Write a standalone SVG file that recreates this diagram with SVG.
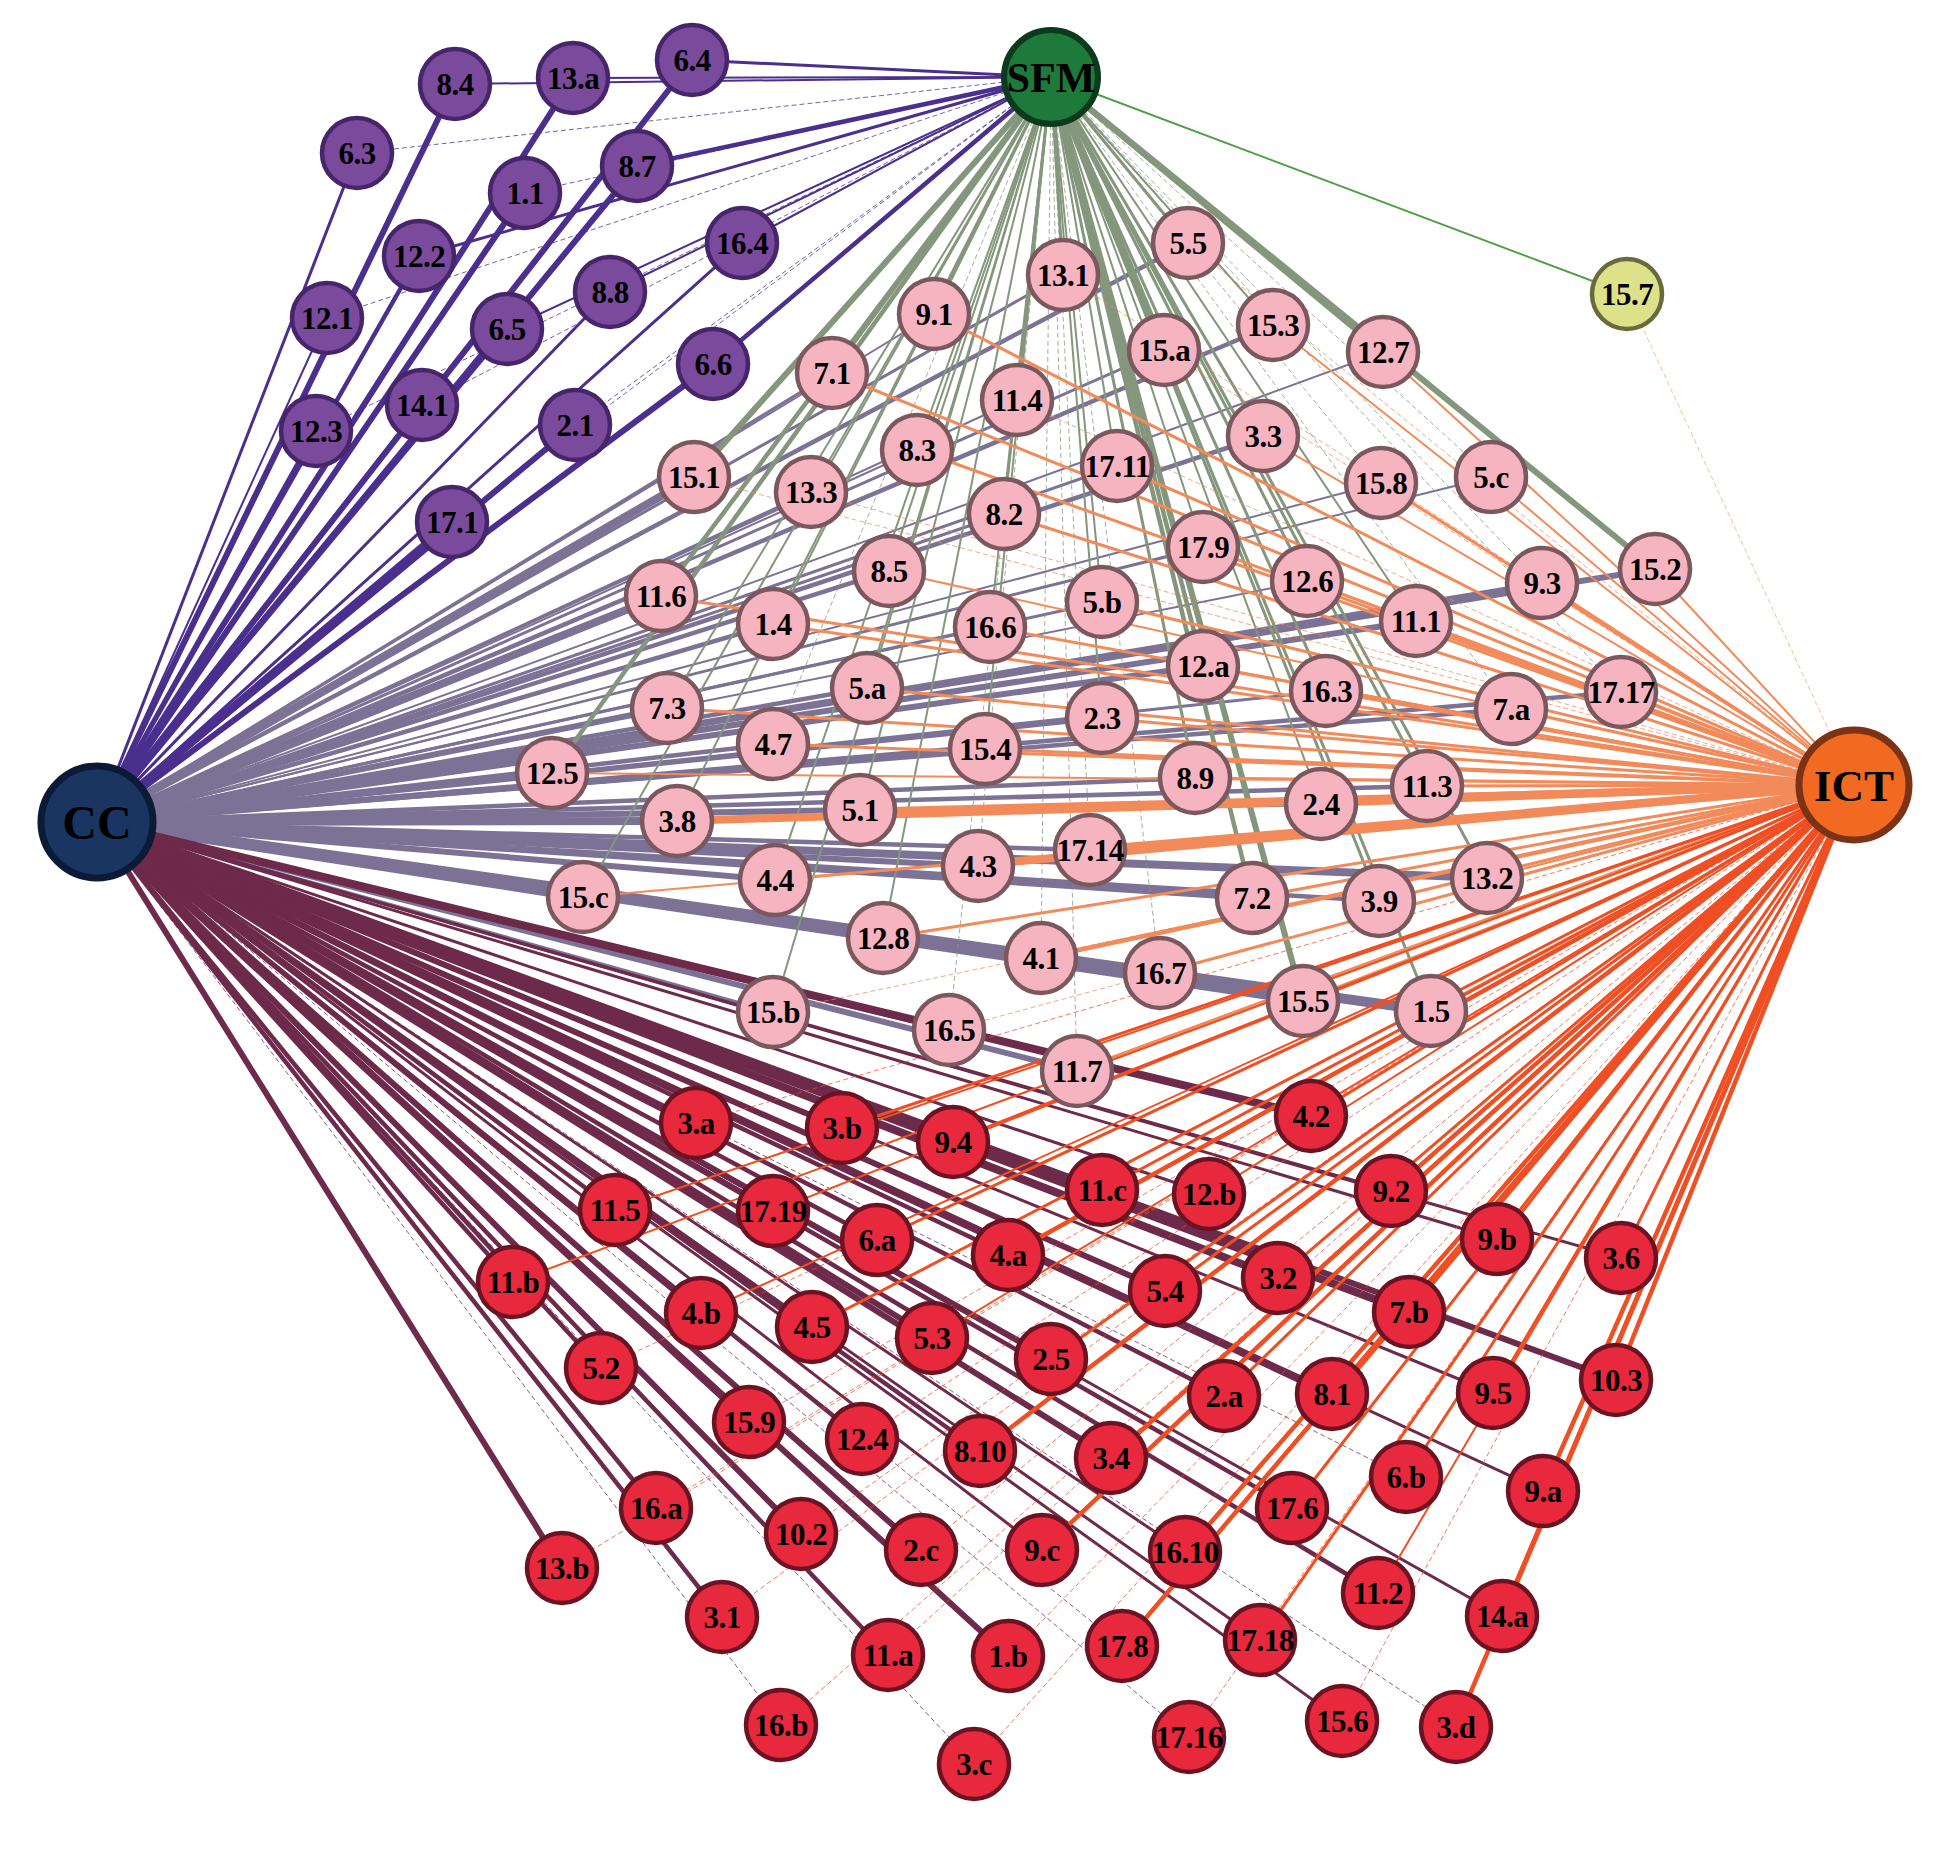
<svg xmlns="http://www.w3.org/2000/svg" width="1948" height="1853" viewBox="0 0 1948 1853">
<style>
path{fill:none;stroke-linecap:butt}
.cp{stroke:#4a2f8f}.cg{stroke:#7c7295}.cr{stroke:#6d2a4b}.sg{stroke:#84967c}.sp{stroke:#4a2f8f}.op{stroke:#f28a5a}.or{stroke:#f04e23}.sy{stroke:#4e9e44}.oy{stroke:#f5a868}
.w1{stroke-width:1;stroke-dasharray:5 3;opacity:.75}.w2{stroke-width:2}.w3{stroke-width:3}.w4{stroke-width:4.5}.w5{stroke-width:6}.w6{stroke-width:8}.w7{stroke-width:10}
.n circle{stroke-width:4.5}.n text{font-family:"Liberation Serif","Times New Roman",serif;font-weight:bold;font-size:31px;letter-spacing:-0.5px;text-anchor:middle;fill:#000}
.pu circle{fill:#7a4a9d;stroke:#47256a}.pk circle{fill:#f6b4c1;stroke:#7b575e}.rd circle{fill:#e8293d;stroke:#6b1322}.yl circle{fill:#dde28a;stroke:#6a6b3c}
.hub text{font-family:"Liberation Serif","Times New Roman",serif;font-weight:bold;text-anchor:middle;fill:#000}
</style>
<defs><circle id="c" r="35"/></defs>
<rect width="1948" height="1853" fill="#fff"/>
<g id="connectors">
<path class="cg w4" d="M97 822L1188 243"/><path class="cg w3" d="M97 822L1063 275"/><path class="cg w2" d="M97 822L934 314"/><path class="cg w4" d="M97 822L1273 325"/><path class="cg w3" d="M97 822L1164 350"/><path class="cg w2" d="M97 822L1383 352"/><path class="cg w3" d="M97 822L832 373"/><path class="cg w2" d="M97 822L1017 400"/><path class="cg w4" d="M97 822L1263 436"/><path class="cg w2" d="M97 822L917 450"/><path class="cg w3" d="M97 822L1117 466"/><path class="cg w6" d="M97 822L694 477"/><path class="cg w3" d="M97 822L811 492"/><path class="cg w2" d="M97 822L1381 483"/><path class="cg w2" d="M97 822L1491 477"/><path class="cg w3" d="M97 822L1004 514"/><path class="cg w2" d="M97 822L1203 547"/><path class="cg w5" d="M97 822L1655 569"/><path class="cg w4" d="M97 822L889 571"/><path class="cg w4" d="M97 822L1542 583"/><path class="cg w2" d="M97 822L1307 581"/><path class="cg w6" d="M97 822L661 596"/><path class="cg w4" d="M97 822L773 624"/><path class="cg w3" d="M97 822L1102 602"/><path class="cg w3" d="M97 822L990 627"/><path class="cg w5" d="M97 822L1416 621"/><path class="cg w5" d="M97 822L1203 666"/><path class="cg w3" d="M97 822L1326 691"/><path class="cg w4" d="M97 822L1621 692"/><path class="cg w4" d="M97 822L1511 709"/><path class="cg w4" d="M97 822L867 688"/><path class="cg w5" d="M97 822L667 708"/><path class="cg w4" d="M97 822L1102 718"/><path class="cg w4" d="M97 822L773 744"/><path class="cg w5" d="M97 822L985 749"/><path class="cg w5" d="M97 822L552 773"/><path class="cg w4" d="M97 822L1195 778"/><path class="cg w4" d="M97 822L1427 786"/><path class="cg w4" d="M97 822L1321 804"/><path class="cg w5" d="M97 822L860 810"/><path class="cg w6" d="M97 822L677 821"/><path class="cg w4" d="M97 822L1090 850"/><path class="cg w5" d="M97 822L978 866"/><path class="cg w5" d="M97 822L775 880"/><path class="cg w6" d="M97 822L1487 878"/><path class="cg w7" d="M97 822L583 897"/><path class="cg w5" d="M97 822L1252 898"/><path class="cg w4" d="M97 822L1379 901"/><path class="cg w3" d="M97 822L883 938"/><path class="cg w4" d="M97 822L1041 958"/><path class="cg w4" d="M97 822L1160 973"/><path class="cg w6" d="M97 822L1303 1001"/><path class="cg w7" d="M97 822L1431 1011"/><path class="cg w3" d="M97 822L773 1012"/><path class="cg w4" d="M97 822L949 1030"/><path class="cg w5" d="M97 822L1077 1071"/>
<path class="cr w6" d="M97 822L1311 1116"/><path class="cr w5" d="M97 822L696 1123"/><path class="cr w5" d="M97 822L842 1128"/><path class="cr w5" d="M97 822L953 1142"/><path class="cr w6" d="M97 822L1102 1190"/><path class="cr w3" d="M97 822L1209 1194"/><path class="cr w3" d="M97 822L1391 1191"/><path class="cr w4" d="M97 822L615 1210"/><path class="cr w5" d="M97 822L773 1211"/><path class="cr w4" d="M97 822L877 1240"/><path class="cr w4" d="M97 822L1008 1255"/><path class="cr w3" d="M97 822L1497 1239"/><path class="cr w3" d="M97 822L1621 1258"/><path class="cr w4" d="M97 822L513 1282"/><path class="cr w5" d="M97 822L1165 1291"/><path class="cr w6" d="M97 822L1278 1278"/><path class="cr w6" d="M97 822L1409 1312"/><path class="cr w4" d="M97 822L701 1313"/><path class="cr w5" d="M97 822L812 1327"/><path class="cr w5" d="M97 822L932 1338"/><path class="cr w5" d="M97 822L1051 1359"/><path class="cr w5" d="M97 822L1616 1380"/><path class="cr w4" d="M97 822L601 1368"/><path class="cr w4" d="M97 822L1224 1396"/><path class="cr w6" d="M97 822L1332 1394"/><path class="cr w3" d="M97 822L1493 1393"/><path class="cr w5" d="M97 822L749 1422"/><path class="cr w4" d="M97 822L862 1439"/><path class="cr w4" d="M97 822L980 1451"/><path class="cr w5" d="M97 822L1111 1458"/><path class="cr w3" d="M97 822L1543 1491"/><path class="cr w1" d="M97 822L1406 1477"/><path class="cr w4" d="M97 822L1292 1508"/><path class="cr w4" d="M97 822L656 1508"/><path class="cr w5" d="M97 822L801 1534"/><path class="cr w5" d="M97 822L921 1550"/><path class="cr w3" d="M97 822L1042 1550"/><path class="cr w3" d="M97 822L1185 1552"/><path class="cr w5" d="M97 822L562 1568"/><path class="cr w4" d="M97 822L1378 1593"/><path class="cr w3" d="M97 822L1502 1616"/><path class="cr w4" d="M97 822L722 1617"/><path class="cr w4" d="M97 822L888 1655"/><path class="cr w5" d="M97 822L1008 1656"/><path class="cr w1" d="M97 822L1122 1646"/><path class="cr w3" d="M97 822L1260 1640"/><path class="cr w3" d="M97 822L1342 1721"/><path class="cr w1" d="M97 822L1456 1727"/><path class="cr w1" d="M97 822L781 1725"/><path class="cr w1" d="M97 822L974 1764"/><path class="cr w1" d="M97 822L1189 1737"/>
<path class="cp w5" d="M97 822L455 84"/><path class="cp w5" d="M97 822L573 78"/><path class="cp w5" d="M97 822L692 60"/><path class="cp w3" d="M97 822L357 153"/><path class="cp w5" d="M97 822L525 193"/><path class="cp w5" d="M97 822L637 166"/><path class="cp w4" d="M97 822L419 256"/><path class="cp w3" d="M97 822L742 243"/><path class="cp w3" d="M97 822L610 292"/><path class="cp w2" d="M97 822L327 318"/><path class="cp w4" d="M97 822L507 329"/><path class="cp w5" d="M97 822L713 364"/><path class="cp w4" d="M97 822L422 405"/><path class="cp w5" d="M97 822L575 425"/><path class="cp w4" d="M97 822L316 431"/><path class="cp w6" d="M97 822L452 522"/>
<path class="sp w2" d="M1051 77L455 84"/><path class="sp w2" d="M1051 77L573 78"/><path class="sp w3" d="M1051 77L692 60"/><path class="sp w1" d="M1051 77L357 153"/><path class="sp w1" d="M1051 77L525 193"/><path class="sp w4" d="M1051 77L637 166"/><path class="sp w3" d="M1051 77L419 256"/><path class="sp w2" d="M1051 77L742 243"/><path class="sp w2" d="M1051 77L610 292"/><path class="sp w1" d="M1051 77L327 318"/><path class="sp w2" d="M1051 77L507 329"/><path class="sp w4" d="M1051 77L713 364"/><path class="sp w1" d="M1051 77L422 405"/><path class="sp w1" d="M1051 77L575 425"/><path class="sp w1" d="M1051 77L316 431"/><path class="sp w1" d="M1051 77L452 522"/>
<path class="sg w3" d="M1051 77L1188 243"/><path class="sg w3" d="M1051 77L1063 275"/><path class="sg w3" d="M1051 77L934 314"/><path class="sg w2" d="M1051 77L1273 325"/><path class="sg w6" d="M1051 77L1164 350"/><path class="sg w5" d="M1051 77L1383 352"/><path class="sg w3" d="M1051 77L832 373"/><path class="sg w3" d="M1051 77L1017 400"/><path class="sg w3" d="M1051 77L1263 436"/><path class="sg w2" d="M1051 77L917 450"/><path class="sg w2" d="M1051 77L1117 466"/><path class="sg w5" d="M1051 77L694 477"/><path class="sg w2" d="M1051 77L811 492"/><path class="sg w1" d="M1051 77L1381 483"/><path class="sg w1" d="M1051 77L1491 477"/><path class="sg w2" d="M1051 77L1004 514"/><path class="sg w2" d="M1051 77L1203 547"/><path class="sg w5" d="M1051 77L1655 569"/><path class="sg w2" d="M1051 77L889 571"/><path class="sg w1" d="M1051 77L1542 583"/><path class="sg w3" d="M1051 77L1307 581"/><path class="sg w4" d="M1051 77L661 596"/><path class="sg w2" d="M1051 77L773 624"/><path class="sg w2" d="M1051 77L1102 602"/><path class="sg w2" d="M1051 77L990 627"/><path class="sg w2" d="M1051 77L1416 621"/><path class="sg w4" d="M1051 77L1203 666"/><path class="sg w3" d="M1051 77L1326 691"/><path class="sg w1" d="M1051 77L1621 692"/><path class="sg w1" d="M1051 77L1511 709"/><path class="sg w2" d="M1051 77L867 688"/><path class="sg w2" d="M1051 77L667 708"/><path class="sg w2" d="M1051 77L1102 718"/><path class="sg w1" d="M1051 77L773 744"/><path class="sg w2" d="M1051 77L985 749"/><path class="sg w4" d="M1051 77L552 773"/><path class="sg w3" d="M1051 77L1195 778"/><path class="sg w3" d="M1051 77L1427 786"/><path class="sg w2" d="M1051 77L1321 804"/><path class="sg w2" d="M1051 77L860 810"/><path class="sg w2" d="M1051 77L677 821"/><path class="sg w1" d="M1051 77L1090 850"/><path class="sg w1" d="M1051 77L978 866"/><path class="sg w2" d="M1051 77L775 880"/><path class="sg w3" d="M1051 77L1487 878"/><path class="sg w2" d="M1051 77L583 897"/><path class="sg w4" d="M1051 77L1252 898"/><path class="sg w3" d="M1051 77L1379 901"/><path class="sg w2" d="M1051 77L883 938"/><path class="sg w1" d="M1051 77L1041 958"/><path class="sg w1" d="M1051 77L1160 973"/><path class="sg w5" d="M1051 77L1303 1001"/><path class="sg w3" d="M1051 77L1431 1011"/><path class="sg w2" d="M1051 77L773 1012"/><path class="sg w1" d="M1051 77L949 1030"/><path class="sg w1" d="M1051 77L1077 1071"/>
<path class="sy w2" d="M1051 77L1627 294"/>
<path class="op w1" d="M1854 785L1188 243"/><path class="op w1" d="M1854 785L1063 275"/><path class="op w3" d="M1854 785L934 314"/><path class="op w2" d="M1854 785L1273 325"/><path class="op w1" d="M1854 785L1164 350"/><path class="op w2" d="M1854 785L1383 352"/><path class="op w3" d="M1854 785L832 373"/><path class="op w1" d="M1854 785L1017 400"/><path class="op w2" d="M1854 785L1263 436"/><path class="op w3" d="M1854 785L917 450"/><path class="op w3" d="M1854 785L1117 466"/><path class="op w1" d="M1854 785L694 477"/><path class="op w1" d="M1854 785L811 492"/><path class="op w3" d="M1854 785L1381 483"/><path class="op w2" d="M1854 785L1491 477"/><path class="op w3" d="M1854 785L1004 514"/><path class="op w3" d="M1854 785L1203 547"/><path class="op w2" d="M1854 785L1655 569"/><path class="op w2" d="M1854 785L889 571"/><path class="op w3" d="M1854 785L1542 583"/><path class="op w3" d="M1854 785L1307 581"/><path class="op w3" d="M1854 785L661 596"/><path class="op w3" d="M1854 785L773 624"/><path class="op w3" d="M1854 785L1102 602"/><path class="op w3" d="M1854 785L990 627"/><path class="op w3" d="M1854 785L1416 621"/><path class="op w3" d="M1854 785L1203 666"/><path class="op w3" d="M1854 785L1326 691"/><path class="op w3" d="M1854 785L1621 692"/><path class="op w3" d="M1854 785L1511 709"/><path class="op w3" d="M1854 785L867 688"/><path class="op w3" d="M1854 785L667 708"/><path class="op w3" d="M1854 785L1102 718"/><path class="op w3" d="M1854 785L773 744"/><path class="op w3" d="M1854 785L985 749"/><path class="op w2" d="M1854 785L552 773"/><path class="op w3" d="M1854 785L1195 778"/><path class="op w3" d="M1854 785L1427 786"/><path class="op w5" d="M1854 785L1321 804"/><path class="op w4" d="M1854 785L860 810"/><path class="op w6" d="M1854 785L677 821"/><path class="op w6" d="M1854 785L1090 850"/><path class="op w5" d="M1854 785L978 866"/><path class="op w3" d="M1854 785L775 880"/><path class="op w2" d="M1854 785L1487 878"/><path class="op w2" d="M1854 785L583 897"/><path class="op w3" d="M1854 785L1252 898"/><path class="op w3" d="M1854 785L1379 901"/><path class="op w3" d="M1854 785L883 938"/><path class="op w4" d="M1854 785L1041 958"/><path class="op w3" d="M1854 785L1160 973"/><path class="op w3" d="M1854 785L1303 1001"/><path class="op w2" d="M1854 785L1431 1011"/><path class="op w1" d="M1854 785L773 1012"/><path class="op w1" d="M1854 785L949 1030"/><path class="op w4" d="M1854 785L1077 1071"/>
<path class="oy w1" d="M1854 785L1627 294"/>
<path class="or w3" d="M1854 785L1311 1116"/><path class="or w1" d="M1854 785L696 1123"/><path class="or w3" d="M1854 785L842 1128"/><path class="or w3" d="M1854 785L953 1142"/><path class="or w3" d="M1854 785L1102 1190"/><path class="or w2" d="M1854 785L1209 1194"/><path class="or w4" d="M1854 785L1391 1191"/><path class="or w2" d="M1854 785L615 1210"/><path class="or w2" d="M1854 785L773 1211"/><path class="or w3" d="M1854 785L877 1240"/><path class="or w4" d="M1854 785L1008 1255"/><path class="or w3" d="M1854 785L1497 1239"/><path class="or w3" d="M1854 785L1621 1258"/><path class="or w2" d="M1854 785L513 1282"/><path class="or w3" d="M1854 785L1165 1291"/><path class="or w3" d="M1854 785L1278 1278"/><path class="or w3" d="M1854 785L1409 1312"/><path class="or w2" d="M1854 785L701 1313"/><path class="or w3" d="M1854 785L812 1327"/><path class="or w2" d="M1854 785L932 1338"/><path class="or w3" d="M1854 785L1051 1359"/><path class="or w4" d="M1854 785L1616 1380"/><path class="or w1" d="M1854 785L601 1368"/><path class="or w3" d="M1854 785L1224 1396"/><path class="or w3" d="M1854 785L1332 1394"/><path class="or w3" d="M1854 785L1493 1393"/><path class="or w1" d="M1854 785L749 1422"/><path class="or w1" d="M1854 785L862 1439"/><path class="or w4" d="M1854 785L980 1451"/><path class="or w4" d="M1854 785L1111 1458"/><path class="or w4" d="M1854 785L1543 1491"/><path class="or w3" d="M1854 785L1406 1477"/><path class="or w3" d="M1854 785L1292 1508"/><path class="or w1" d="M1854 785L656 1508"/><path class="or w1" d="M1854 785L801 1534"/><path class="or w1" d="M1854 785L921 1550"/><path class="or w4" d="M1854 785L1042 1550"/><path class="or w4" d="M1854 785L1185 1552"/><path class="or w1" d="M1854 785L562 1568"/><path class="or w2" d="M1854 785L1378 1593"/><path class="or w4" d="M1854 785L1502 1616"/><path class="or w1" d="M1854 785L722 1617"/><path class="or w1" d="M1854 785L888 1655"/><path class="or w1" d="M1854 785L1008 1656"/><path class="or w4" d="M1854 785L1122 1646"/><path class="or w3" d="M1854 785L1260 1640"/><path class="or w1" d="M1854 785L1342 1721"/><path class="or w4" d="M1854 785L1456 1727"/><path class="or w1" d="M1854 785L781 1725"/><path class="or w1" d="M1854 785L974 1764"/><path class="or w1" d="M1854 785L1189 1737"/>
</g>
<g id="nodes">
<g id="n-8-4" class="n pu"><circle cx="455" cy="84" r="35"/><text x="455" y="95">8.4</text></g>
<g id="n-13-a" class="n pu"><circle cx="573" cy="78" r="35"/><text x="573" y="89">13.a</text></g>
<g id="n-6-4" class="n pu"><circle cx="692" cy="60" r="35"/><text x="692" y="71">6.4</text></g>
<g id="n-6-3" class="n pu"><circle cx="357" cy="153" r="35"/><text x="357" y="164">6.3</text></g>
<g id="n-1-1" class="n pu"><circle cx="525" cy="193" r="35"/><text x="525" y="204">1.1</text></g>
<g id="n-8-7" class="n pu"><circle cx="637" cy="166" r="35"/><text x="637" y="177">8.7</text></g>
<g id="n-12-2" class="n pu"><circle cx="419" cy="256" r="35"/><text x="419" y="267">12.2</text></g>
<g id="n-16-4" class="n pu"><circle cx="742" cy="243" r="35"/><text x="742" y="254">16.4</text></g>
<g id="n-8-8" class="n pu"><circle cx="610" cy="292" r="35"/><text x="610" y="303">8.8</text></g>
<g id="n-12-1" class="n pu"><circle cx="327" cy="318" r="35"/><text x="327" y="329">12.1</text></g>
<g id="n-6-5" class="n pu"><circle cx="507" cy="329" r="35"/><text x="507" y="340">6.5</text></g>
<g id="n-6-6" class="n pu"><circle cx="713" cy="364" r="35"/><text x="713" y="375">6.6</text></g>
<g id="n-14-1" class="n pu"><circle cx="422" cy="405" r="35"/><text x="422" y="416">14.1</text></g>
<g id="n-2-1" class="n pu"><circle cx="575" cy="425" r="35"/><text x="575" y="436">2.1</text></g>
<g id="n-12-3" class="n pu"><circle cx="316" cy="431" r="35"/><text x="316" y="442">12.3</text></g>
<g id="n-17-1" class="n pu"><circle cx="452" cy="522" r="35"/><text x="452" y="533">17.1</text></g>
<g id="n-15-7" class="n yl"><circle cx="1627" cy="294" r="35"/><text x="1627" y="305">15.7</text></g>
<g id="n-5-5" class="n pk"><circle cx="1188" cy="243" r="35"/><text x="1188" y="254">5.5</text></g>
<g id="n-13-1" class="n pk"><circle cx="1063" cy="275" r="35"/><text x="1063" y="286">13.1</text></g>
<g id="n-9-1" class="n pk"><circle cx="934" cy="314" r="35"/><text x="934" y="325">9.1</text></g>
<g id="n-15-3" class="n pk"><circle cx="1273" cy="325" r="35"/><text x="1273" y="336">15.3</text></g>
<g id="n-15-a" class="n pk"><circle cx="1164" cy="350" r="35"/><text x="1164" y="361">15.a</text></g>
<g id="n-12-7" class="n pk"><circle cx="1383" cy="352" r="35"/><text x="1383" y="363">12.7</text></g>
<g id="n-7-1" class="n pk"><circle cx="832" cy="373" r="35"/><text x="832" y="384">7.1</text></g>
<g id="n-11-4" class="n pk"><circle cx="1017" cy="400" r="35"/><text x="1017" y="411">11.4</text></g>
<g id="n-3-3" class="n pk"><circle cx="1263" cy="436" r="35"/><text x="1263" y="447">3.3</text></g>
<g id="n-8-3" class="n pk"><circle cx="917" cy="450" r="35"/><text x="917" y="461">8.3</text></g>
<g id="n-17-11" class="n pk"><circle cx="1117" cy="466" r="35"/><text x="1117" y="477">17.11</text></g>
<g id="n-15-1" class="n pk"><circle cx="694" cy="477" r="35"/><text x="694" y="488">15.1</text></g>
<g id="n-13-3" class="n pk"><circle cx="811" cy="492" r="35"/><text x="811" y="503">13.3</text></g>
<g id="n-15-8" class="n pk"><circle cx="1381" cy="483" r="35"/><text x="1381" y="494">15.8</text></g>
<g id="n-5-c" class="n pk"><circle cx="1491" cy="477" r="35"/><text x="1491" y="488">5.c</text></g>
<g id="n-8-2" class="n pk"><circle cx="1004" cy="514" r="35"/><text x="1004" y="525">8.2</text></g>
<g id="n-17-9" class="n pk"><circle cx="1203" cy="547" r="35"/><text x="1203" y="558">17.9</text></g>
<g id="n-15-2" class="n pk"><circle cx="1655" cy="569" r="35"/><text x="1655" y="580">15.2</text></g>
<g id="n-8-5" class="n pk"><circle cx="889" cy="571" r="35"/><text x="889" y="582">8.5</text></g>
<g id="n-9-3" class="n pk"><circle cx="1542" cy="583" r="35"/><text x="1542" y="594">9.3</text></g>
<g id="n-12-6" class="n pk"><circle cx="1307" cy="581" r="35"/><text x="1307" y="592">12.6</text></g>
<g id="n-11-6" class="n pk"><circle cx="661" cy="596" r="35"/><text x="661" y="607">11.6</text></g>
<g id="n-1-4" class="n pk"><circle cx="773" cy="624" r="35"/><text x="773" y="635">1.4</text></g>
<g id="n-5-b" class="n pk"><circle cx="1102" cy="602" r="35"/><text x="1102" y="613">5.b</text></g>
<g id="n-16-6" class="n pk"><circle cx="990" cy="627" r="35"/><text x="990" y="638">16.6</text></g>
<g id="n-11-1" class="n pk"><circle cx="1416" cy="621" r="35"/><text x="1416" y="632">11.1</text></g>
<g id="n-12-a" class="n pk"><circle cx="1203" cy="666" r="35"/><text x="1203" y="677">12.a</text></g>
<g id="n-16-3" class="n pk"><circle cx="1326" cy="691" r="35"/><text x="1326" y="702">16.3</text></g>
<g id="n-17-17" class="n pk"><circle cx="1621" cy="692" r="35"/><text x="1621" y="703">17.17</text></g>
<g id="n-7-a" class="n pk"><circle cx="1511" cy="709" r="35"/><text x="1511" y="720">7.a</text></g>
<g id="n-5-a" class="n pk"><circle cx="867" cy="688" r="35"/><text x="867" y="699">5.a</text></g>
<g id="n-7-3" class="n pk"><circle cx="667" cy="708" r="35"/><text x="667" y="719">7.3</text></g>
<g id="n-2-3" class="n pk"><circle cx="1102" cy="718" r="35"/><text x="1102" y="729">2.3</text></g>
<g id="n-4-7" class="n pk"><circle cx="773" cy="744" r="35"/><text x="773" y="755">4.7</text></g>
<g id="n-15-4" class="n pk"><circle cx="985" cy="749" r="35"/><text x="985" y="760">15.4</text></g>
<g id="n-12-5" class="n pk"><circle cx="552" cy="773" r="35"/><text x="552" y="784">12.5</text></g>
<g id="n-8-9" class="n pk"><circle cx="1195" cy="778" r="35"/><text x="1195" y="789">8.9</text></g>
<g id="n-11-3" class="n pk"><circle cx="1427" cy="786" r="35"/><text x="1427" y="797">11.3</text></g>
<g id="n-2-4" class="n pk"><circle cx="1321" cy="804" r="35"/><text x="1321" y="815">2.4</text></g>
<g id="n-5-1" class="n pk"><circle cx="860" cy="810" r="35"/><text x="860" y="821">5.1</text></g>
<g id="n-3-8" class="n pk"><circle cx="677" cy="821" r="35"/><text x="677" y="832">3.8</text></g>
<g id="n-17-14" class="n pk"><circle cx="1090" cy="850" r="35"/><text x="1090" y="861">17.14</text></g>
<g id="n-4-3" class="n pk"><circle cx="978" cy="866" r="35"/><text x="978" y="877">4.3</text></g>
<g id="n-4-4" class="n pk"><circle cx="775" cy="880" r="35"/><text x="775" y="891">4.4</text></g>
<g id="n-13-2" class="n pk"><circle cx="1487" cy="878" r="35"/><text x="1487" y="889">13.2</text></g>
<g id="n-15-c" class="n pk"><circle cx="583" cy="897" r="35"/><text x="583" y="908">15.c</text></g>
<g id="n-7-2" class="n pk"><circle cx="1252" cy="898" r="35"/><text x="1252" y="909">7.2</text></g>
<g id="n-3-9" class="n pk"><circle cx="1379" cy="901" r="35"/><text x="1379" y="912">3.9</text></g>
<g id="n-12-8" class="n pk"><circle cx="883" cy="938" r="35"/><text x="883" y="949">12.8</text></g>
<g id="n-4-1" class="n pk"><circle cx="1041" cy="958" r="35"/><text x="1041" y="969">4.1</text></g>
<g id="n-16-7" class="n pk"><circle cx="1160" cy="973" r="35"/><text x="1160" y="984">16.7</text></g>
<g id="n-15-5" class="n pk"><circle cx="1303" cy="1001" r="35"/><text x="1303" y="1012">15.5</text></g>
<g id="n-1-5" class="n pk"><circle cx="1431" cy="1011" r="35"/><text x="1431" y="1022">1.5</text></g>
<g id="n-15-b" class="n pk"><circle cx="773" cy="1012" r="35"/><text x="773" y="1023">15.b</text></g>
<g id="n-16-5" class="n pk"><circle cx="949" cy="1030" r="35"/><text x="949" y="1041">16.5</text></g>
<g id="n-11-7" class="n pk"><circle cx="1077" cy="1071" r="35"/><text x="1077" y="1082">11.7</text></g>
<g id="n-4-2" class="n rd"><circle cx="1311" cy="1116" r="35"/><text x="1311" y="1127">4.2</text></g>
<g id="n-3-a" class="n rd"><circle cx="696" cy="1123" r="35"/><text x="696" y="1134">3.a</text></g>
<g id="n-3-b" class="n rd"><circle cx="842" cy="1128" r="35"/><text x="842" y="1139">3.b</text></g>
<g id="n-9-4" class="n rd"><circle cx="953" cy="1142" r="35"/><text x="953" y="1153">9.4</text></g>
<g id="n-11-c" class="n rd"><circle cx="1102" cy="1190" r="35"/><text x="1102" y="1201">11.c</text></g>
<g id="n-12-b" class="n rd"><circle cx="1209" cy="1194" r="35"/><text x="1209" y="1205">12.b</text></g>
<g id="n-9-2" class="n rd"><circle cx="1391" cy="1191" r="35"/><text x="1391" y="1202">9.2</text></g>
<g id="n-11-5" class="n rd"><circle cx="615" cy="1210" r="35"/><text x="615" y="1221">11.5</text></g>
<g id="n-17-19" class="n rd"><circle cx="773" cy="1211" r="35"/><text x="773" y="1222">17.19</text></g>
<g id="n-6-a" class="n rd"><circle cx="877" cy="1240" r="35"/><text x="877" y="1251">6.a</text></g>
<g id="n-4-a" class="n rd"><circle cx="1008" cy="1255" r="35"/><text x="1008" y="1266">4.a</text></g>
<g id="n-9-b" class="n rd"><circle cx="1497" cy="1239" r="35"/><text x="1497" y="1250">9.b</text></g>
<g id="n-3-6" class="n rd"><circle cx="1621" cy="1258" r="35"/><text x="1621" y="1269">3.6</text></g>
<g id="n-11-b" class="n rd"><circle cx="513" cy="1282" r="35"/><text x="513" y="1293">11.b</text></g>
<g id="n-5-4" class="n rd"><circle cx="1165" cy="1291" r="35"/><text x="1165" y="1302">5.4</text></g>
<g id="n-3-2" class="n rd"><circle cx="1278" cy="1278" r="35"/><text x="1278" y="1289">3.2</text></g>
<g id="n-7-b" class="n rd"><circle cx="1409" cy="1312" r="35"/><text x="1409" y="1323">7.b</text></g>
<g id="n-4-b" class="n rd"><circle cx="701" cy="1313" r="35"/><text x="701" y="1324">4.b</text></g>
<g id="n-4-5" class="n rd"><circle cx="812" cy="1327" r="35"/><text x="812" y="1338">4.5</text></g>
<g id="n-5-3" class="n rd"><circle cx="932" cy="1338" r="35"/><text x="932" y="1349">5.3</text></g>
<g id="n-2-5" class="n rd"><circle cx="1051" cy="1359" r="35"/><text x="1051" y="1370">2.5</text></g>
<g id="n-10-3" class="n rd"><circle cx="1616" cy="1380" r="35"/><text x="1616" y="1391">10.3</text></g>
<g id="n-5-2" class="n rd"><circle cx="601" cy="1368" r="35"/><text x="601" y="1379">5.2</text></g>
<g id="n-2-a" class="n rd"><circle cx="1224" cy="1396" r="35"/><text x="1224" y="1407">2.a</text></g>
<g id="n-8-1" class="n rd"><circle cx="1332" cy="1394" r="35"/><text x="1332" y="1405">8.1</text></g>
<g id="n-9-5" class="n rd"><circle cx="1493" cy="1393" r="35"/><text x="1493" y="1404">9.5</text></g>
<g id="n-15-9" class="n rd"><circle cx="749" cy="1422" r="35"/><text x="749" y="1433">15.9</text></g>
<g id="n-12-4" class="n rd"><circle cx="862" cy="1439" r="35"/><text x="862" y="1450">12.4</text></g>
<g id="n-8-10" class="n rd"><circle cx="980" cy="1451" r="35"/><text x="980" y="1462">8.10</text></g>
<g id="n-3-4" class="n rd"><circle cx="1111" cy="1458" r="35"/><text x="1111" y="1469">3.4</text></g>
<g id="n-9-a" class="n rd"><circle cx="1543" cy="1491" r="35"/><text x="1543" y="1502">9.a</text></g>
<g id="n-6-b" class="n rd"><circle cx="1406" cy="1477" r="35"/><text x="1406" y="1488">6.b</text></g>
<g id="n-17-6" class="n rd"><circle cx="1292" cy="1508" r="35"/><text x="1292" y="1519">17.6</text></g>
<g id="n-16-a" class="n rd"><circle cx="656" cy="1508" r="35"/><text x="656" y="1519">16.a</text></g>
<g id="n-10-2" class="n rd"><circle cx="801" cy="1534" r="35"/><text x="801" y="1545">10.2</text></g>
<g id="n-2-c" class="n rd"><circle cx="921" cy="1550" r="35"/><text x="921" y="1561">2.c</text></g>
<g id="n-9-c" class="n rd"><circle cx="1042" cy="1550" r="35"/><text x="1042" y="1561">9.c</text></g>
<g id="n-16-10" class="n rd"><circle cx="1185" cy="1552" r="35"/><text x="1185" y="1563">16.10</text></g>
<g id="n-13-b" class="n rd"><circle cx="562" cy="1568" r="35"/><text x="562" y="1579">13.b</text></g>
<g id="n-11-2" class="n rd"><circle cx="1378" cy="1593" r="35"/><text x="1378" y="1604">11.2</text></g>
<g id="n-14-a" class="n rd"><circle cx="1502" cy="1616" r="35"/><text x="1502" y="1627">14.a</text></g>
<g id="n-3-1" class="n rd"><circle cx="722" cy="1617" r="35"/><text x="722" y="1628">3.1</text></g>
<g id="n-11-a" class="n rd"><circle cx="888" cy="1655" r="35"/><text x="888" y="1666">11.a</text></g>
<g id="n-1-b" class="n rd"><circle cx="1008" cy="1656" r="35"/><text x="1008" y="1667">1.b</text></g>
<g id="n-17-8" class="n rd"><circle cx="1122" cy="1646" r="35"/><text x="1122" y="1657">17.8</text></g>
<g id="n-17-18" class="n rd"><circle cx="1260" cy="1640" r="35"/><text x="1260" y="1651">17.18</text></g>
<g id="n-15-6" class="n rd"><circle cx="1342" cy="1721" r="35"/><text x="1342" y="1732">15.6</text></g>
<g id="n-3-d" class="n rd"><circle cx="1456" cy="1727" r="35"/><text x="1456" y="1738">3.d</text></g>
<g id="n-16-b" class="n rd"><circle cx="781" cy="1725" r="35"/><text x="781" y="1736">16.b</text></g>
<g id="n-3-c" class="n rd"><circle cx="974" cy="1764" r="35"/><text x="974" y="1775">3.c</text></g>
<g id="n-17-16" class="n rd"><circle cx="1189" cy="1737" r="35"/><text x="1189" y="1748">17.16</text></g>
<g id="n-CC" class="hub"><circle cx="97" cy="822" r="56" fill="#1b3563" stroke="#0b1a36" stroke-width="7"/><text x="97" y="839" font-size="48">CC</text></g>
<g id="n-SFM" class="hub"><circle cx="1051" cy="77" r="47" fill="#1d7a3b" stroke="#0b3a1c" stroke-width="6"/><text x="1051" y="92" font-size="42">SFM</text></g>
<g id="n-ICT" class="hub"><circle cx="1854" cy="785" r="55" fill="#f26a21" stroke="#7c3315" stroke-width="7"/><text x="1854" y="801" font-size="45">ICT</text></g>
</g>
</svg>
